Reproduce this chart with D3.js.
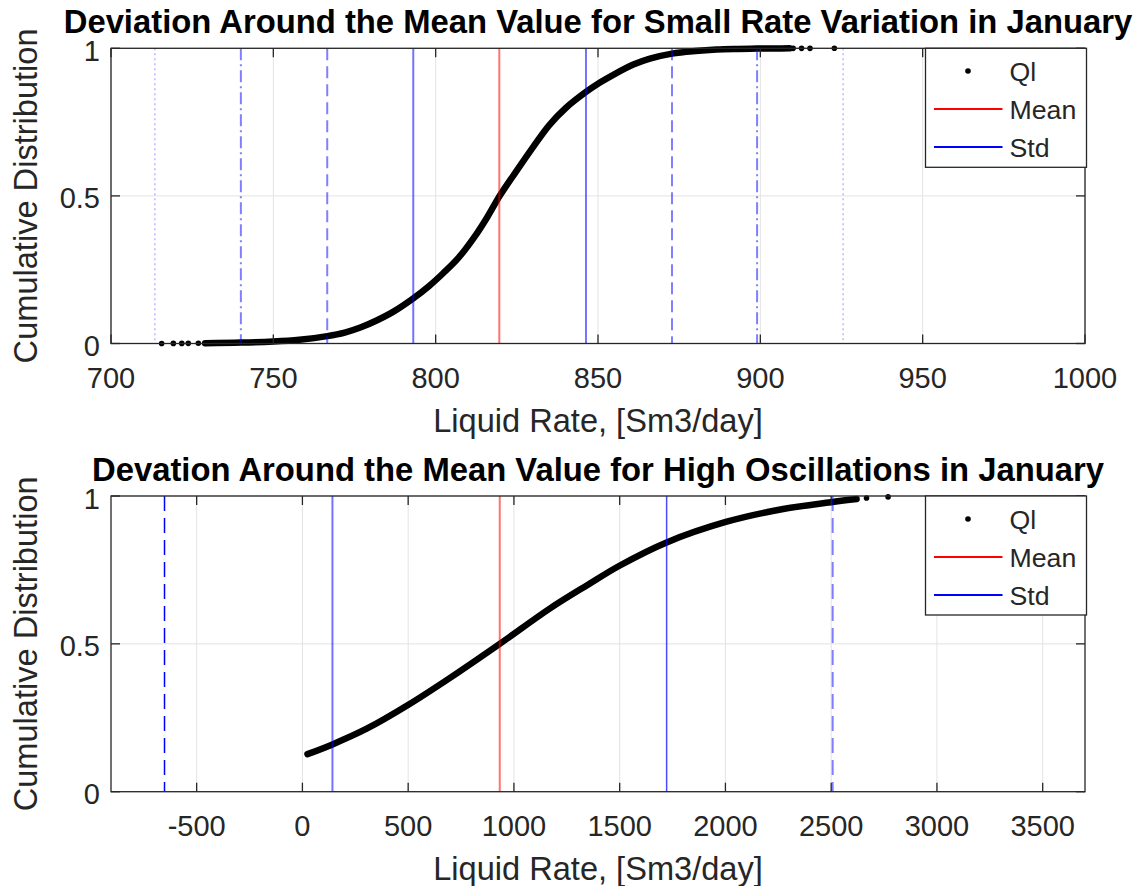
<!DOCTYPE html>
<html>
<head>
<meta charset="utf-8">
<script src="https://cdn.jsdelivr.net/npm/d3@7"></script>
<style>
  html, body { margin: 0; padding: 0; background: #fff; }
  svg { display: block; font-family: "Liberation Sans", Arial, Helvetica, sans-serif; }
</style>
</head>
<body>
<svg id="chart" width="1143" height="886"></svg>
<script>
// ---- Small rate variation, January ----
const smallRate = [729, 740, 750, 758, 766.6, 772, 777, 781.8, 787, 793.1, 798, 802.3, 807, 812.5, 816, 819.6, 824, 830.1, 835, 840, 846.3, 850.6, 855, 860.9, 866, 872.8, 880, 886.5, 893, 899, 905, 909];
const smallCdf  = [0.001, 0.003, 0.007, 0.013, 0.025, 0.037, 0.055, 0.078, 0.108, 0.153, 0.195, 0.238, 0.29, 0.37, 0.43, 0.498, 0.57, 0.667, 0.74, 0.797, 0.852, 0.884, 0.912, 0.945, 0.965, 0.982, 0.991, 0.996, 0.998, 0.999, 0.9995, 0.9998];
const smallTailRate = [715.6, 719.2, 721.8, 723.8, 726.9, 910.1, 912.7, 915.3, 922.8];
const smallTailCdf  = [0.0002, 0.0003, 0.0004, 0.0005, 0.0007, 0.9998, 0.9999, 0.9999, 1.0];
const smallMean = 819.6;
const smallStdLines = [713.5, 740.0, 766.6, 793.1, 846.3, 872.8, 899.0, 925.5];
const smallXTicks = [700, 750, 800, 850, 900, 950, 1000];

// ---- High oscillations, January ----
const highRate = [24, 142, 304, 501, 698, 933, 1171, 1350, 1501, 1722, 2006, 2273, 2507, 2620];
const highCdf  = [0.127, 0.160, 0.213, 0.294, 0.385, 0.500, 0.620, 0.700, 0.765, 0.843, 0.913, 0.956, 0.980, 0.990];
const highTailRate = [2667, 2769];
const highTailCdf  = [0.993, 0.997];
const highMean = 933;
const highStdLines = [-652, 142, 1722, 2507];
const highXTicks = [-500, 0, 500, 1000, 1500, 2000, 2500, 3000, 3500];

const cdfTicks = [0, 0.5, 1];
const legendLabels = ["Ql", "Mean", "Std"];

// ---- styles ----
const TEXT = "#262626";
const AXIS = "#262626";
const GRID = "#e3e3e3";
const BLUE = "#0000ff";
const RED = "#ff0000";

// line style for each std line (same order as the line arrays)
const smallLineStyles = [
  { dash: "2,3",       opacity: 0.28, width: 1.5 },
  { dash: "12,4,2,4",  opacity: 0.5,  width: 2 },
  { dash: "12,6",      opacity: 0.5,  width: 2 },
  { dash: null,        opacity: 0.55, width: 2 },
  { dash: null,        opacity: 0.55, width: 2 },
  { dash: "12,6",      opacity: 0.5,  width: 2 },
  { dash: "12,4,2,4",  opacity: 0.5,  width: 2 },
  { dash: "2,3",       opacity: 0.28, width: 1.5 }
];
const highLineStyles = [
  { dash: "15,7", opacity: 1.0,  width: 1.5 },
  { dash: null,   opacity: 0.55, width: 2 },
  { dash: null,   opacity: 0.7,  width: 1.5 },
  { dash: "15,7", opacity: 0.5,  width: 2 }
];

const svg = d3.select("#chart");
const fmtTick = v => d3.format("d")(v).replace("\u2212", "-");

function drawPanel(cfg) {
  const { box, xDomain, xTicks, rate, cdf, tailRate, tailCdf, mean, stdLines, lineStyles, title, id } = cfg;
  const x = d3.scaleLinear().domain(xDomain).range([box.left, box.right]);
  const y = d3.scaleLinear().domain([0, 1]).range([box.bottom, box.top]);
  const g = svg.append("g");

  g.append("clipPath").attr("id", "clip-" + id)
    .append("rect")
    .attr("x", box.left).attr("y", box.top)
    .attr("width", box.right - box.left).attr("height", box.bottom - box.top);

  // grid
  g.append("g").selectAll("line").data(xTicks).join("line")
    .attr("x1", d => x(d)).attr("x2", d => x(d))
    .attr("y1", box.top).attr("y2", box.bottom)
    .attr("stroke", GRID).attr("stroke-width", 1);
  g.append("g").selectAll("line").data(cdfTicks).join("line")
    .attr("x1", box.left).attr("x2", box.right)
    .attr("y1", d => y(d)).attr("y2", d => y(d))
    .attr("stroke", GRID).attr("stroke-width", 1);

  // cumulative distribution of Ql
  const pts = rate.map((r, i) => [r, cdf[i]]);
  const line = d3.line().x(d => x(d[0])).y(d => y(d[1])).curve(d3.curveCatmullRom.alpha(0.5));
  g.append("path").datum(pts)
    .attr("d", line)
    .attr("fill", "none").attr("stroke", "#000")
    .attr("stroke-width", 6.5).attr("stroke-linecap", "round").attr("stroke-linejoin", "round");
  g.append("g").selectAll("circle").data(tailRate.map((r, i) => [r, tailCdf[i]])).join("circle")
    .attr("cx", d => x(d[0])).attr("cy", d => y(d[1])).attr("r", 2.8).attr("fill", "#000");

  // std lines and mean
  const lg = g.append("g").attr("clip-path", `url(#clip-${id})`);
  stdLines.forEach((v, i) => {
    const s = lineStyles[i];
    lg.append("line")
      .attr("x1", x(v)).attr("x2", x(v))
      .attr("y1", box.top).attr("y2", box.bottom)
      .attr("stroke", BLUE).attr("stroke-opacity", s.opacity)
      .attr("stroke-width", s.width)
      .attr("stroke-dasharray", s.dash);
  });
  lg.append("line")
    .attr("x1", x(mean)).attr("x2", x(mean))
    .attr("y1", box.top).attr("y2", box.bottom)
    .attr("stroke", RED).attr("stroke-opacity", 0.55).attr("stroke-width", 2);

  // axes box
  g.append("rect")
    .attr("x", box.left).attr("y", box.top)
    .attr("width", box.right - box.left).attr("height", box.bottom - box.top)
    .attr("fill", "none").attr("stroke", AXIS).attr("stroke-width", 1.3);

  // inward ticks on all four sides
  const tl = 9;
  const tg = g.append("g").attr("stroke", AXIS).attr("stroke-width", 1.3);
  xTicks.forEach(t => {
    tg.append("line").attr("x1", x(t)).attr("x2", x(t)).attr("y1", box.bottom).attr("y2", box.bottom - tl);
    tg.append("line").attr("x1", x(t)).attr("x2", x(t)).attr("y1", box.top).attr("y2", box.top + tl);
  });
  cdfTicks.forEach(t => {
    tg.append("line").attr("x1", box.left).attr("x2", box.left + tl).attr("y1", y(t)).attr("y2", y(t));
    tg.append("line").attr("x1", box.right).attr("x2", box.right - tl).attr("y1", y(t)).attr("y2", y(t));
  });

  // tick labels
  g.append("g").selectAll("text").data(xTicks).join("text")
    .attr("x", d => x(d)).attr("y", box.bottom + 44.5)
    .attr("text-anchor", "middle").attr("font-size", 29).attr("fill", TEXT)
    .text(fmtTick);
  g.append("g").selectAll("text").data(cdfTicks).join("text")
    .attr("x", box.left - 11).attr("y", d => y(d) + 12.5)
    .attr("text-anchor", "end").attr("font-size", 29).attr("fill", TEXT)
    .text(d => d3.format("~g")(d));

  // axis labels
  g.append("text")
    .attr("x", (box.left + box.right) / 2).attr("y", box.bottom + 88.5)
    .attr("text-anchor", "middle").attr("font-size", 32.6).attr("fill", TEXT)
    .text("Liquid Rate, [Sm3/day]");
  g.append("text")
    .attr("transform", `translate(37,${(box.top + box.bottom) / 2}) rotate(-90)`)
    .attr("text-anchor", "middle").attr("font-size", 32.6).attr("fill", TEXT)
    .text("Cumulative Distribution");

  // title
  g.append("text")
    .attr("x", (box.left + box.right) / 2).attr("y", box.top - 15)
    .attr("text-anchor", "middle").attr("font-size", 32.8).attr("font-weight", "bold").attr("fill", "#000")
    .text(title);

  // legend
  const lx = 925.5, lw = 161, lh = 119, ly = box.top;
  const leg = g.append("g");
  leg.append("rect").attr("x", lx).attr("y", ly).attr("width", lw).attr("height", lh)
    .attr("fill", "#fff").attr("stroke", AXIS).attr("stroke-width", 1.3);
  const rowY = [Math.round(ly + 23), Math.round(ly + 61), Math.round(ly + 98.5)];
  leg.append("circle").attr("cx", lx + 42.5).attr("cy", rowY[0]).attr("r", 2.8).attr("fill", "#000");
  leg.append("line").attr("x1", lx + 8.5).attr("x2", lx + 77).attr("y1", rowY[1]).attr("y2", rowY[1])
    .attr("stroke", RED).attr("stroke-width", 2);
  leg.append("line").attr("x1", lx + 8.5).attr("x2", lx + 77).attr("y1", rowY[2]).attr("y2", rowY[2])
    .attr("stroke", BLUE).attr("stroke-width", 2);
  leg.selectAll("text.lbl").data(legendLabels).join("text")
    .attr("x", lx + 84).attr("y", (d, i) => rowY[i] + 10)
    .attr("font-size", 26.7).attr("fill", TEXT)
    .text(d => d);
}

drawPanel({
  id: "small",
  box: { left: 111, right: 1085, top: 48.3, bottom: 343.5 },
  xDomain: [700, 1000], xTicks: smallXTicks,
  rate: smallRate, cdf: smallCdf, tailRate: smallTailRate, tailCdf: smallTailCdf,
  mean: smallMean, stdLines: smallStdLines, lineStyles: smallLineStyles,
  title: "Deviation Around the Mean Value for Small Rate Variation in January"
});

drawPanel({
  id: "high",
  box: { left: 111, right: 1085, top: 496, bottom: 791.7 },
  xDomain: [-905, 3700], xTicks: highXTicks,
  rate: highRate, cdf: highCdf, tailRate: highTailRate, tailCdf: highTailCdf,
  mean: highMean, stdLines: highStdLines, lineStyles: highLineStyles,
  title: "Devation Around the Mean Value for High Oscillations in January"
});
</script>
</body>
</html>
